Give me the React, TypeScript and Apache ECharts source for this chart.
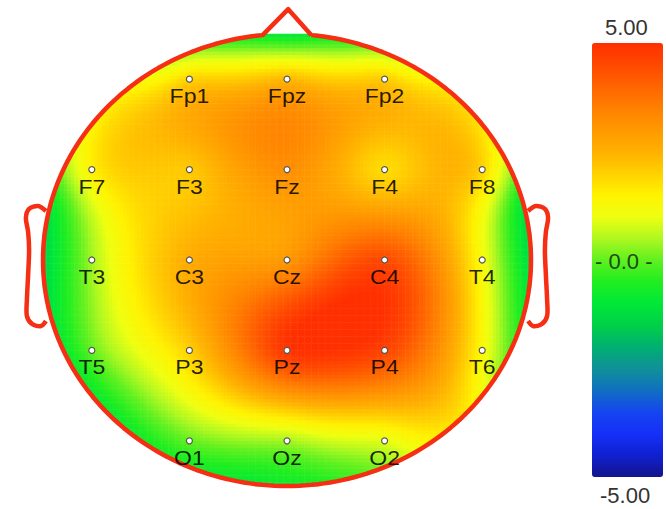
import React, { useEffect, useRef } from "react";
import * as echarts from "echarts";

// 10-20 montage: column (-2..2, left to right) and row (2..-2, front to back)
const electrodeNames = ["Fp1", "Fpz", "Fp2", "F7", "F3", "Fz", "F4", "F8", "T3", "C3", "Cz", "C4", "T4", "T5", "P3", "Pz", "P4", "T6", "O1", "Oz", "O2"];
const electrodeCols = [-1, 0, 1, -2, -1, 0, 1, 2, -2, -1, 0, 1, 2, -2, -1, 0, 1, 2, -1, 0, 1];
const electrodeRows = [2, 2, 2, 1, 1, 1, 1, 1, 0, 0, 0, 0, 0, -1, -1, -1, -1, -1, -2, -2, -2];
const electrodeValues = [2.0, 2.4, 2.1, 1.5, 2.1, 3.2, 1.8, 2.0, 0.4, 2.6, 3.0, 4.5, 1.2, 0.0, 2.0, 4.9, 4.6, 1.3, 0.0, 0.4, 0.9];

// potential along the scalp rim, every 15 degrees counter-clockwise from the right ear
const rimAngles = [0, 15, 30, 45, 60, 75, 90, 105, 120, 135, 150, 165, 180, 195, 210, 225, 240, 255, 270, 285, 300, 315, 330, 345];
const rimValues = [-1.3, -1.0, 1.2, 1.8, 0.9, -0.3, -1.0, -0.3, 0.7, 1.5, 1.0, -0.9, -1.4, -1.1, -0.9, -0.9, -0.7, -0.9, -0.8, -0.3, 0.8, 1.7, 0.4, -0.7];

// colour scale
const scaleMin = -5;
const scaleMax = 5;
const scaleTopLabel = "5.00";
const scaleMidLabel = "- 0.0 -";
const scaleBottomLabel = "-5.00";
const scaleColors = [
  "#14148c", "#1020d0", "#1530f8", "#1545f0", "#1070c0", "#109098", "#00b070",
  "#00d048", "#00e838", "#20ee20", "#60f020", "#b0f820", "#eeff10", "#fff200",
  "#ffd000", "#ffb000", "#ff9800", "#ff8000", "#ff6400", "#ff4800", "#ff3000",
];

// head drawing geometry, in unit-head coordinates
const ELECTRODE_STEP = 0.4;
const NOSE = [[-0.1, 0.995], [0.005, 1.11], [0.1, 0.995]];
const LEFT_EAR = [
  [-0.988, 0.217], [-1.02, 0.239], [-1.057, 0.226], [-1.07, 0.186], [-1.061, 0.124],
  [-1.057, 0.044], [-1.061, -0.066], [-1.066, -0.177], [-1.066, -0.248], [-1.045, -0.283],
  [-1.008, -0.292], [-0.988, -0.27],
];
const GRID_NX = 140;
const GRID_NY = 130;

// thin-plate spline through the sampled potentials
function fitSurface(px: number[], py: number[], pv: number[]) {
  const n = px.length;
  const m = n + 3;
  const phi = (r2: number) => (r2 > 1e-12 ? 0.5 * r2 * Math.log(r2) : 0);
  const A: number[][] = [];
  for (let i = 0; i < m; i++) A.push(new Array(m + 1).fill(0));
  for (let i = 0; i < n; i++) {
    for (let j = 0; j < n; j++) {
      const dx = px[i] - px[j];
      const dy = py[i] - py[j];
      A[i][j] = phi(dx * dx + dy * dy);
    }
    A[i][i] += 0.002;
    A[i][n] = 1; A[i][n + 1] = px[i]; A[i][n + 2] = py[i];
    A[n][i] = 1; A[n + 1][i] = px[i]; A[n + 2][i] = py[i];
    A[i][m] = pv[i];
  }
  for (let c = 0; c < m; c++) {
    let piv = c;
    for (let r = c + 1; r < m; r++) if (Math.abs(A[r][c]) > Math.abs(A[piv][c])) piv = r;
    const t = A[c]; A[c] = A[piv]; A[piv] = t;
    for (let r = 0; r < m; r++) {
      if (r === c) continue;
      const f = A[r][c] / A[c][c];
      if (f === 0) continue;
      for (let k = c; k <= m; k++) A[r][k] -= f * A[c][k];
    }
  }
  const w = A.map((row, i) => row[m] / row[i]);
  return (x: number, y: number) => {
    let s = w[n] + w[n + 1] * x + w[n + 2] * y;
    for (let i = 0; i < n; i++) {
      const dx = x - px[i];
      const dy = y - py[i];
      s += w[i] * phi(dx * dx + dy * dy);
    }
    return s;
  };
}

function buildOption() {
  const ex = electrodeCols.map((c) => c * ELECTRODE_STEP);
  const ey = electrodeRows.map((r) => r * ELECTRODE_STEP);
  const rx = rimAngles.map((a) => Math.cos((a * Math.PI) / 180));
  const ry = rimAngles.map((a) => Math.sin((a * Math.PI) / 180));
  const surface = fitSurface([...ex, ...rx], [...ey, ...ry], [...electrodeValues, ...rimValues]);

  const xCats = Array.from({ length: GRID_NX }, (_, i) => String(i));
  const yCats = Array.from({ length: GRID_NY }, (_, j) => String(j));
  const cells: number[][] = [];
  for (let i = 0; i < GRID_NX; i++) {
    for (let j = 0; j < GRID_NY; j++) {
      const x = -1 + ((i + 0.5) * 2) / GRID_NX;
      const y = -1 + ((j + 0.5) * 2) / GRID_NY;
      if (x * x + y * y > 1) continue;
      const v = Math.max(scaleMin, Math.min(scaleMax, surface(x, y)));
      cells.push([i, j, +v.toFixed(3)]);
    }
  }

  const outlineColor = "#f52e14";
  const fontFamily = '"Liberation Sans", Arial, sans-serif';

  return {
    animation: false,
    grid: { left: 43, top: 34, width: 488, height: 452, containLabel: false },
    xAxis: [
      { type: "category", data: xCats, show: false, gridIndex: 0 },
      { type: "value", min: -1, max: 1, show: false, gridIndex: 0 },
    ],
    yAxis: [
      { type: "category", data: yCats, show: false, gridIndex: 0 },
      { type: "value", min: -1, max: 1, show: false, gridIndex: 0 },
    ],
    visualMap: {
      type: "continuous",
      min: scaleMin,
      max: scaleMax,
      dimension: 2,
      seriesIndex: 0,
      calculable: false,
      orient: "vertical",
      left: 592,
      top: 43,
      itemWidth: 71,
      itemHeight: 434,
      padding: 0,
      z: 2,
      inRange: { color: scaleColors },
    },
    graphic: [
      { type: "text", left: 605, top: 16, z: 100, style: { text: scaleTopLabel, fontSize: 22, fill: "#333", fontFamily } },
      { type: "text", left: 595, top: 250, z: 100, style: { text: scaleMidLabel, fontSize: 22, fill: "#1e4a14", fontFamily } },
      { type: "text", left: 600, top: 484, z: 100, style: { text: scaleBottomLabel, fontSize: 22, fill: "#333", fontFamily } },
    ],
    series: [
      {
        type: "heatmap",
        xAxisIndex: 0,
        yAxisIndex: 0,
        data: cells,
        progressive: 0,
        silent: true,
        emphasis: { disabled: true },
        z: 1,
      },
      {
        type: "custom",
        xAxisIndex: 1,
        yAxisIndex: 1,
        silent: true,
        z: 3,
        data: [[0, 0]],
        renderItem: (_params: any, api: any) => {
          const a1 = Math.acos(NOSE[2][0]);
          const a2 = Math.PI - a1 - 2 * Math.PI;
          const head: number[][] = [];
          const steps = 240;
          for (let k = 0; k <= steps; k++) {
            const t = a1 + ((a2 - a1) * k) / steps;
            head.push(api.coord([Math.cos(t), Math.sin(t)]));
          }
          head.push(api.coord(NOSE[1]));
          head.push(api.coord(NOSE[2]));
          const leftEar = LEFT_EAR.map((p) => api.coord(p));
          const rightEar = LEFT_EAR.map((p) => api.coord([-p[0], p[1]]));
          const stroke = { fill: "none", stroke: outlineColor, lineWidth: 4.5, lineJoin: "round" };
          return {
            type: "group",
            children: [
              { type: "polyline", shape: { points: head }, style: stroke },
              { type: "polyline", shape: { points: leftEar, smooth: 0.3 }, style: stroke },
              { type: "polyline", shape: { points: rightEar, smooth: 0.3 }, style: stroke },
            ],
          };
        },
      },
      {
        type: "custom",
        xAxisIndex: 1,
        yAxisIndex: 1,
        silent: true,
        z: 4,
        data: electrodeNames.map((name, i) => ({ name, value: [ex[i], ey[i]] })),
        renderItem: (params: any, api: any) => {
          const p = api.coord([api.value(0), api.value(1)]);
          return {
            type: "group",
            children: [
              { type: "circle", shape: { cx: p[0], cy: p[1], r: 3 }, style: { fill: "#fff", stroke: "#555", lineWidth: 1.2 } },
              {
                type: "text",
                x: p[0],
                y: p[1] + 17,
                scaleX: 1.15,
                style: {
                  text: electrodeNames[params.dataIndex],
                  fontSize: 20,
                  fontFamily,
                  fill: "rgba(0,0,0,0.85)",
                  align: "center",
                  verticalAlign: "middle",
                },
              },
            ],
          };
        },
      },
    ],
  };
}

export default function App() {
  const ref = useRef<HTMLDivElement>(null);
  useEffect(() => {
    const chart = echarts.init(ref.current!, undefined, { renderer: "svg" });
    chart.setOption(buildOption() as any);
    return () => chart.dispose();
  }, []);
  return <div ref={ref} style={{ position: "absolute", left: 0, top: 0, width: 666, height: 509 }} />;
}
